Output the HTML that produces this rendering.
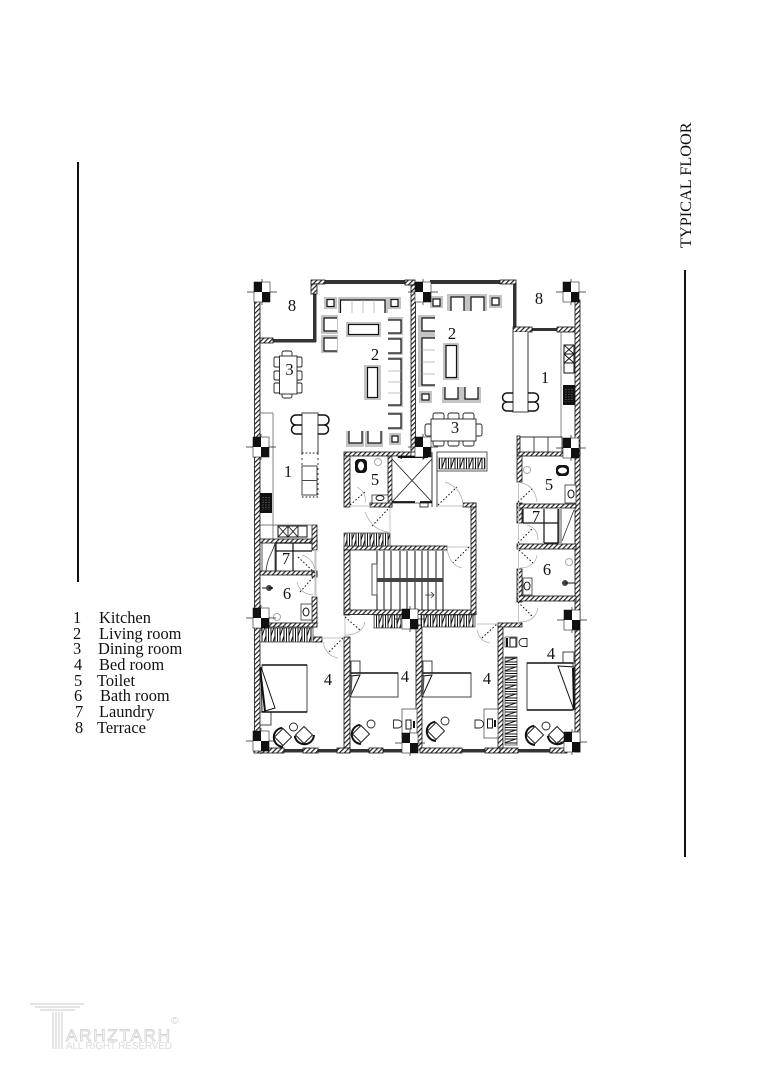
<!DOCTYPE html>
<html><head><meta charset="utf-8"><style>html,body{margin:0;padding:0;background:#fff}svg{display:block}
text{font-family:"Liberation Serif",serif;fill:#111}
.w{fill:url(#h);stroke:#111;stroke-width:.8}
.d{fill:#333}
.c{fill:url(#z);stroke:#333;stroke-width:.7}
.cv{fill:url(#zv);stroke:#333;stroke-width:.7}
.g{fill:#c4c4c4}
.i{fill:#fff;stroke:#111;stroke-width:1.2}
.o{fill:none;stroke:#111;stroke-width:1.2}
.t{fill:#fff;stroke:#333;stroke-width:.8}
.l{fill:none;stroke:#555;stroke-width:.7}
.dr{fill:none;stroke:#111;stroke-width:1;stroke-dasharray:1.6 2}
.ar{fill:none;stroke:#aaa;stroke-width:.7}
.th{fill:none;stroke:#c4c4c4;stroke-width:1}
.n{font-size:16.500px}
</style></head><body>
<svg width="764" height="1080" viewBox="0 0 764 1080" xmlns="http://www.w3.org/2000/svg">
<defs>
<pattern id="h" width="3.400" height="3.400" patternUnits="userSpaceOnUse" patternTransform="rotate(45)"><rect width="3.400" height="3.400" fill="#fff"/><rect width="1.200" height="3.400" fill="#222"/></pattern>
<pattern id="z" width="9" height="12" patternUnits="userSpaceOnUse"><rect width="9" height="12" fill="#fff"/><path d="M1 0V12L5 0V12M7.500 0V12" fill="none" stroke="#111" stroke-width="1"/></pattern>
<pattern id="zv" width="12" height="9" patternUnits="userSpaceOnUse"><rect width="12" height="9" fill="#fff"/><path d="M0 1H12L0 5H12M0 7.500H12" fill="none" stroke="#111" stroke-width="1"/></pattern>
<g id="col"><path d="M-15 0H15M0 -13V13" stroke="#222" stroke-width=".7" fill="none"/><rect x="-8" y="-10" width="16" height="20" fill="#fff" stroke="#222" stroke-width=".6"/><rect x="-8" y="-10" width="8" height="10" fill="#111"/><rect x="0" y="0" width="8" height="10" fill="#111"/></g>
<g id="chair"><rect x="-6" y="-6" width="12" height="12" fill="#fff" stroke="#222" stroke-width="1"/><path d="M-7 -6A9.500 9.500 0 0 0 -6 7 9.500 9.500 0 0 0 7 7" fill="none" stroke="#111" stroke-width="2"/></g>
</defs>
<rect width="764" height="1080" fill="#fff"/>

<!-- side rules -->
<rect x="77" y="162" width="2" height="420" fill="#111"/>
<rect x="684" y="270" width="2" height="587" fill="#111"/>
<text transform="translate(691,248) rotate(-90)" font-size="16.300">TYPICAL FLOOR</text>

<!-- legend -->
<g font-size="16.400">
<text x="73" y="623">1</text><text x="99" y="623">Kitchen</text>
<text x="73" y="639">2</text><text x="99" y="639">Living room</text>
<text x="73" y="654">3</text><text x="98" y="654">Dining room</text>
<text x="74" y="670">4</text><text x="99" y="670">Bed room</text>
<text x="74" y="686">5</text><text x="97" y="686">Toilet</text>
<text x="74" y="701">6</text><text x="100" y="701">Bath room</text>
<text x="75" y="717">7</text><text x="99" y="717">Laundry</text>
<text x="75" y="733">8</text><text x="97" y="733">Terrace</text>
</g>

<!-- dark terrace / facade lines -->
<rect class="d" x="273" y="339" width="43" height="3.500"/>
<rect class="d" x="313" y="293" width="3.500" height="49"/>
<rect class="d" x="325" y="280" width="80" height="4"/>
<rect class="d" x="430" y="280" width="70" height="4"/>
<rect class="d" x="513" y="284" width="3.500" height="44"/>
<rect class="d" x="532" y="328" width="26" height="3"/>
<rect class="d" x="284" y="749" width="20" height="3.500"/><rect class="d" x="318" y="749" width="20" height="3.500"/><rect class="d" x="350" y="749" width="20" height="3.500"/><rect class="d" x="383" y="749" width="20" height="3.500"/><rect class="d" x="462" y="749" width="24" height="3.500"/><rect class="d" x="518" y="749" width="33" height="3.500"/>

<!-- walls -->
<g class="w">
<rect x="254.500" y="296" width="5.500" height="456"/>
<rect x="260" y="338" width="13" height="5"/>
<rect x="311" y="280" width="14" height="4"/><rect x="311" y="284" width="6" height="10"/>
<rect x="405" y="280" width="10" height="5"/><rect x="411" y="285" width="4.500" height="167"/>
<rect x="500" y="280" width="16" height="4"/>
<rect x="513" y="327" width="19" height="5"/><rect x="557" y="327" width="18" height="5"/>
<rect x="575" y="300" width="5" height="452"/>
<rect x="260" y="539" width="57" height="4"/><rect x="312" y="525" width="5" height="25"/>
<rect x="260" y="571" width="57" height="4"/><rect x="312" y="571" width="5" height="6"/>
<rect x="312" y="597" width="5" height="30"/><rect x="260" y="623" width="57" height="4"/>
<rect x="344" y="452" width="67" height="4"/><rect x="344" y="456" width="6" height="51"/>
<rect x="388" y="456" width="4" height="51"/><rect x="370" y="503" width="22" height="4"/>
<rect x="344" y="546" width="103" height="4"/><rect x="344" y="550" width="6" height="65"/>
<rect x="344" y="610" width="132" height="4.500"/>
<rect x="471" y="503" width="5" height="111"/><rect x="463" y="503" width="13" height="4"/>
<rect x="517" y="452" width="63" height="4"/><rect x="517" y="456" width="5" height="26"/>
<rect x="517" y="503" width="5" height="20"/><rect x="517" y="504" width="59" height="4"/>
<rect x="517" y="544" width="59" height="5"/>
<rect x="517" y="569" width="5" height="33"/><rect x="517" y="596" width="59" height="5"/>
<rect x="517" y="436" width="3" height="16"/>
<rect x="313" y="637" width="9" height="5"/>
<rect x="344" y="637" width="6" height="113"/>
<rect x="416" y="625" width="6" height="125"/>
<rect x="498" y="625" width="5" height="125"/><rect x="498" y="623" width="24" height="4"/>
<rect x="254" y="748" width="30" height="5"/><rect x="303" y="748" width="15" height="5"/><rect x="337" y="748" width="13" height="5"/><rect x="369" y="748" width="14" height="5"/>
<rect x="420" y="748" width="42" height="5"/><rect x="485" y="748" width="15" height="5"/><rect x="500" y="748" width="18" height="5"/><rect x="550" y="748" width="17" height="5"/>
</g>

<!-- closets -->
<rect class="c" x="260" y="628" width="53" height="14"/>
<rect class="c" x="344" y="533" width="46" height="13"/>
<rect class="c" x="374" y="615" width="27" height="13"/>
<rect class="c" x="421" y="615" width="54" height="12"/>
<rect x="437" y="452" width="50" height="19" fill="none" stroke="#333" stroke-width=".8"/>
<rect class="c" x="439" y="458" width="46" height="11"/>
<rect class="cv" x="505" y="657" width="12" height="88"/>

<!-- elevator -->
<rect x="392" y="456" width="40" height="47" fill="#fff" stroke="#333" stroke-width=".7"/>
<path d="M392 459L432 502M432 459L392 502" stroke="#222" stroke-width=".9"/>
<path d="M432 452V507M437 456V507" stroke="#333" stroke-width=".9" fill="none"/>
<path d="M392 502H415M420 502H432" stroke="#111" stroke-width="1.800"/>
<path d="M398 457H428" stroke="#111" stroke-width="2"/><path d="M397 457l5 -2v4zM428 457l-5 -2v4z" fill="#111"/>
<rect x="420" y="503" width="8" height="4" fill="#fff" stroke="#111" stroke-width=".8"/>

<!-- stairs -->
<g stroke="#111" stroke-width="1">
<path d="M377 551V610M384 551V610M391 551V610M400 551V610M407 551V610M415 551V610M422 551V610M428 551V610M436 551V610M443 551V610"/>
<rect x="372" y="564" width="5" height="31" fill="#fff" stroke="#555"/>
</g>
<rect x="377" y="578" width="66" height="4" fill="#444"/>
<path d="M431 592l3 3 -3 3M425 595H434" fill="none" stroke="#333" stroke-width=".8"/>

<!-- kitchens -->
<path class="l" d="M273 413V525M260 413H273M260 525H273M273 525H317M273 539V525M561 332V437" stroke-width="1"/>
<rect x="260" y="493" width="12" height="20" fill="#111"/>
<path d="M263 497v13M266 497v13M269 497v13" stroke="#777" stroke-dasharray="1 1.500"/>
<rect x="278" y="526" width="29" height="11" fill="#fff" stroke="#111"/><path d="M278 526L288 537M288 526L278 537M288 526L298 537M298 526L288 537M288 526V537M298 526V537" stroke="#111" stroke-width=".9"/>
<rect x="564" y="345" width="10" height="28" fill="#fff" stroke="#111"/><path d="M564 345L574 354M574 345L564 354M564 354L574 363M574 354L564 363M564 354H574M564 363H574" stroke="#111" stroke-width=".9"/>
<rect x="563" y="385" width="12" height="20" fill="#111"/><path d="M566 389v13M569 389v13M572 389v13" stroke="#777" stroke-dasharray="1 1.500"/>
<path d="M520 437H562V452M534 437V452M548 437V452" fill="none" stroke="#333" stroke-width=".9"/>
<!-- islands -->
<path d="M302 453V413H318V453" fill="#fff" stroke="#666" stroke-width="1.300"/>
<path d="M302 453H318M302 497H318" class="dr"/><path d="M302 453V497M318 453V497" fill="none" stroke="#111" stroke-dasharray="2 3" stroke-width=".8"/>
<rect x="302" y="466" width="15" height="14.500" fill="#fff" stroke="#444"/><rect x="302" y="480.500" width="15" height="14.500" fill="#fff" stroke="#444"/>
<path d="M302 415H296a4 4 0 0 0 0 10 4 4 0 0 0 0 9H302M302 425H296M318 415H324a4 4 0 0 1 0 10 4 4 0 0 1 0 9H318M318 425H324" fill="none" stroke="#111" stroke-width="1.500"/>
<path d="M513 332V412H528V332" fill="#fff" stroke="#666" stroke-width="1.300"/>
<path d="M513 393H507a4 4 0 0 0 0 9 4 4 0 0 0 0 9H513M513 402H507M528 393H534a4 4 0 0 1 0 9 4 4 0 0 1 0 9H528M528 402H534" fill="none" stroke="#111" stroke-width="1.500"/>

<!-- left living -->
<rect class="g" x="324" y="297" width="13" height="12"/><rect class="i" x="327" y="299.500" width="7" height="7"/>
<rect class="g" x="338" y="297" width="50" height="16"/><rect x="341" y="300" width="44" height="13" fill="#fff"/><path class="o" d="M340.500 313V300H385V313"/><path d="M352 300V313M363 300V313M374 300V313" stroke="#aaa" stroke-width=".7"/>
<rect class="g" x="388" y="297" width="13" height="12"/><rect class="i" x="391" y="299.500" width="7" height="7"/>
<rect class="g" x="321" y="315" width="17" height="19"/><rect x="324" y="318" width="13" height="13" fill="#fff"/><path class="o" d="M337 318H324V331H337"/>
<rect class="g" x="321" y="335" width="17" height="18"/><rect x="324" y="338" width="13" height="13" fill="#fff"/><path class="o" d="M337 338H324V351H337"/>
<rect class="g" x="346" y="322" width="35" height="15"/><rect class="i" x="348.500" y="324.500" width="30" height="10"/>
<rect class="g" x="388" y="317" width="15" height="18"/><rect x="388" y="320" width="13" height="13" fill="#fff"/><path class="o" d="M388 320H401V333H388"/>
<rect class="g" x="388" y="337" width="15" height="18"/><rect x="388" y="339" width="13" height="14" fill="#fff"/><path class="o" d="M388 339H401V353H388"/>
<rect class="g" x="388" y="357" width="15" height="50"/><rect x="388" y="359" width="13" height="46" fill="#fff"/><path class="o" d="M388 359H401V405H388"/><path d="M388 371H401M388 382H401M388 393H401" stroke="#aaa" stroke-width=".7"/>
<rect class="g" x="388" y="412" width="15" height="18"/><rect x="388" y="414" width="13" height="14" fill="#fff"/><path class="o" d="M388 414H401V428H388"/>
<rect class="g" x="389" y="433" width="12" height="12"/><rect class="i" x="392" y="436" width="6" height="6"/>
<rect class="g" x="364" y="365" width="17" height="35"/><rect class="i" x="367.500" y="367.500" width="10" height="30"/>
<rect class="g" x="346" y="431" width="18" height="16"/><rect x="349" y="431" width="13" height="12" fill="#fff"/><path class="o" d="M349 431V443H362V431"/>
<rect class="g" x="365" y="431" width="18" height="16"/><rect x="368" y="431" width="13" height="12" fill="#fff"/><path class="o" d="M368 431V443H381V431"/>

<!-- right living -->
<rect class="g" x="430" y="296" width="13" height="12"/><rect class="i" x="433" y="299" width="7" height="7"/>
<rect class="g" x="447" y="294" width="20" height="17"/><rect x="451" y="297" width="13" height="14" fill="#fff"/><path class="o" d="M451 311V297H464V311"/>
<rect class="g" x="467" y="294" width="20" height="17"/><rect x="471" y="297" width="13" height="14" fill="#fff"/><path class="o" d="M471 311V297H484V311"/>
<rect class="g" x="489" y="295" width="13" height="13"/><rect class="i" x="492" y="298" width="7" height="7"/>
<rect class="g" x="418" y="315" width="17" height="20"/><rect x="422" y="318" width="13" height="13" fill="#fff"/><path class="o" d="M435 318H422V331H435"/>
<rect class="g" x="418" y="335" width="17" height="52"/><rect x="422" y="338" width="13" height="47" fill="#fff"/><path class="o" d="M435 338H422V385H435"/><path d="M422 350H435M422 362H435M422 374H435" stroke="#aaa" stroke-width=".7"/>
<rect class="g" x="419" y="391" width="13" height="12"/><rect class="i" x="422" y="394" width="7" height="6"/>
<rect class="g" x="443" y="343" width="16" height="37"/><rect class="i" x="446" y="345.500" width="10.500" height="32"/>
<rect class="g" x="442" y="387" width="20" height="16"/><rect x="445" y="387" width="13" height="12" fill="#fff"/><path class="o" d="M445 387V399H458V387"/>
<rect class="g" x="462" y="387" width="19" height="16"/><rect x="465" y="387" width="13" height="12" fill="#fff"/><path class="o" d="M465 387V399H478V387"/>

<!-- dining -->
<g fill="#fff" stroke="#222" stroke-width=".9">
<rect x="282" y="351" width="10" height="6" rx="2"/><rect x="282" y="393" width="10" height="5" rx="2"/>
<rect x="274" y="357" width="6" height="10" rx="1.500"/><rect x="274" y="371" width="6" height="9" rx="1.500"/><rect x="274" y="383" width="6" height="10" rx="1.500"/>
<rect x="296" y="357" width="6" height="10" rx="1.500"/><rect x="296" y="371" width="6" height="9" rx="1.500"/><rect x="296" y="383" width="6" height="10" rx="1.500"/>
<rect x="279.500" y="356" width="17.500" height="38"/>
<rect x="433" y="413" width="11" height="7" rx="2"/><rect x="448" y="413" width="11" height="7" rx="2"/><rect x="463" y="413" width="11" height="7" rx="2"/>
<rect x="433" y="440" width="11" height="6" rx="2"/><rect x="448" y="440" width="11" height="6" rx="2"/><rect x="463" y="440" width="11" height="6" rx="2"/>
<rect x="425" y="424" width="7" height="12" rx="2"/><rect x="475" y="424" width="7" height="12" rx="2"/>
<rect x="431" y="419" width="45" height="22"/>
</g>

<!-- laundry & baths -->
<path d="M276 543V571M276 543H312M293 543V571M276 551H312" class="o" stroke-width=".9"/>
<path d="M262 541V571M266 571C268 555 272 555 275 543M275 543V571" fill="none" stroke="#444" stroke-width=".9"/>
<path d="M523 523H558M544 509V543M523 509V523M558 509V543H544" class="o" stroke-width=".9"/>
<path d="M559 509V543M561 509V543M562 541L574 510" fill="none" stroke="#444" stroke-width=".9"/>
<circle cx="269" cy="588" r="3" fill="#444"/><path d="M269 588H273" stroke="#111" stroke-width="1.500"/><path d="M262 588H266" stroke="#111" stroke-width="1"/>
<circle cx="277" cy="617" r="3.500" fill="#fff" stroke="#aaa"/>
<rect class="t" x="301" y="604" width="11" height="16"/><ellipse cx="306" cy="612" rx="3" ry="4" fill="#fff" stroke="#111"/>
<circle cx="378" cy="462" r="3.500" fill="#fff" stroke="#aaa"/>
<rect x="355" y="459" width="12" height="14" rx="4" fill="#111"/><ellipse cx="361" cy="466" rx="3" ry="4.500" fill="#fff"/>
<rect class="t" x="372" y="495" width="16" height="8"/><ellipse cx="380" cy="498" rx="4" ry="2.500" fill="#fff" stroke="#111"/>
<rect x="556" y="465" width="13" height="11" rx="4" fill="#111"/><ellipse cx="562.500" cy="470.500" rx="4.500" ry="3" fill="#fff"/>
<circle cx="527" cy="470" r="3.500" fill="#fff" stroke="#aaa"/>
<rect class="t" x="565" y="485" width="11" height="18"/><ellipse cx="571" cy="494" rx="3" ry="4" fill="#fff" stroke="#111"/>
<circle cx="569" cy="562" r="3.500" fill="#fff" stroke="#aaa"/>
<circle cx="565" cy="583" r="3" fill="#444"/><path d="M565 583H575" stroke="#111" stroke-width="1"/>
<rect class="t" x="523" y="578" width="9" height="17"/><ellipse cx="527" cy="586" rx="3" ry="4" fill="#fff" stroke="#111"/>

<!-- doors -->
<g class="th">
<path d="M350 506H371"/><path d="M390 507V533"/><path d="M447 547H471"/><path d="M438 506H463"/>
<path d="M518.500 482V625"/><path d="M315.500 550V597" stroke-width="2"/>
<path d="M322 638H344"/><path d="M477 624H498"/><path d="M345 615V637"/>
</g>
<g class="dr">
<path d="M350 505L365 492"/><path d="M372 526L390 507"/><path d="M438 505L457 487"/><path d="M469 547L453 563"/>
<path d="M518 502L533 488"/><path d="M518 543L533 528"/><path d="M519 550L533 563"/><path d="M518 602L533 617"/>
<path d="M482 638L498 623"/><path d="M345 617L360 630"/><path d="M343 638L328 653"/>
<path d="M298 557L315 573"/><path d="M300 592L315 575"/>
</g>
<g class="ar">
<path d="M357 487Q367 493 365 503"/><path d="M365 512Q372 530 388 532"/><path d="M445 482Q462 488 463 505"/><path d="M447 548Q449 565 462 568"/>
<path d="M522 483Q535 486 537 502"/><path d="M527 525Q538 528 538 540"/><path d="M537 555Q535 568 520 568"/><path d="M538 608Q535 622 520 622"/>
<path d="M477 630Q480 642 490 643"/><path d="M365 622Q362 635 345 635"/><path d="M323 642Q326 656 338 658"/>
<path d="M302 555Q313 558 315 570"/><path d="M297 582Q300 594 313 595"/>
</g>

<!-- beds -->
<g fill="#fff" stroke="#333" stroke-width=".9">
<rect x="262" y="665" width="45" height="47"/>
<rect x="351" y="673" width="47" height="24"/>
<rect x="423" y="673" width="48" height="24"/>
<rect x="527" y="663" width="46" height="47"/>
<rect x="260" y="712" width="11" height="13"/><rect x="351" y="661" width="9" height="12"/><rect x="423" y="661" width="9" height="12"/><rect x="563" y="652" width="11" height="11"/>
<rect x="402" y="709" width="15" height="29" stroke="#666"/><rect x="484" y="709" width="14" height="29" stroke="#666"/>
<rect x="505" y="637" width="12" height="10" stroke="#666"/>
</g>
<path d="M262 665H307M262 712H307M351 673H398M423 673H471M527 663H573M527 710H573" stroke="#111" stroke-width="1.500" fill="none"/>
<path d="M261 667L262 712L275 708Z" fill="#fff" stroke="#111"/><path d="M260 668L265 711" stroke="#111" stroke-width="2"/>
<path d="M351 676L360 675L350 697Z" fill="#fff" stroke="#111"/><path d="M351 676L350 696" stroke="#555" stroke-width="3"/>
<path d="M423 676L432 675L422 697Z" fill="#fff" stroke="#111"/><path d="M423 676L422 696" stroke="#555" stroke-width="3"/>
<path d="M558 666L574 667L574 710Z" fill="#fff" stroke="#111"/><path d="M573 668L574 708" stroke="#111" stroke-width="2"/>

<!-- lounge chairs -->
<use href="#chair" transform="translate(283,737) rotate(45)"/>
<use href="#chair" transform="translate(304,735) rotate(-45)"/>
<use href="#chair" transform="translate(361,734) rotate(45)"/>
<use href="#chair" transform="translate(436,731) rotate(45)"/>
<use href="#chair" transform="translate(535,735) rotate(45)"/>
<use href="#chair" transform="translate(557,735) rotate(-45)"/>
<g fill="#fff" stroke="#222" stroke-width=".9">
<circle cx="293.500" cy="727" r="4"/><circle cx="371" cy="724" r="4"/><circle cx="445" cy="721" r="4"/><circle cx="546" cy="726" r="4"/>
<path d="M393.500 720H398a4 4 0 0 1 0 8H393.500Z"/><path d="M475 720H479.500a4 4 0 0 1 0 8H475Z"/><path d="M527 638.500H523a4 4 0 0 0 0 8H527Z"/>
</g>
<g fill="#fff" stroke="#111" stroke-width="1"><rect x="406" y="720" width="5" height="9"/><rect x="487.500" y="719" width="5" height="9"/><rect x="510" y="638" width="6" height="9"/></g>
<path d="M414 721V728M495 720V727M507 638V647" stroke="#111" stroke-width="2"/>

<!-- columns -->
<use href="#col" x="262" y="292"/><use href="#col" x="261" y="447"/><use href="#col" x="261" y="618"/><use href="#col" x="261" y="741"/>
<use href="#col" x="423" y="292"/><use href="#col" x="423" y="447"/><use href="#col" x="571" y="292"/><use href="#col" x="571" y="448"/>
<use href="#col" x="572" y="620"/><use href="#col" x="572" y="742"/><use href="#col" x="410" y="619"/><use href="#col" x="410" y="743"/>

<!-- room labels -->
<g class="n" text-anchor="middle">
<text x="292" y="311">8</text><text x="539" y="304">8</text>
<text x="375" y="360">2</text><text x="452" y="339">2</text>
<text x="289.500" y="375">3</text><text x="455" y="433">3</text>
<text x="288" y="477">1</text><text x="545" y="383">1</text>
<text x="375" y="485">5</text><text x="549" y="490">5</text>
<text x="286" y="564">7</text><text x="536" y="522">7</text>
<text x="287" y="599">6</text><text x="547" y="575">6</text>
<text x="328" y="685">4</text><text x="405" y="682">4</text><text x="487" y="684">4</text><text x="551" y="659">4</text>
</g>

<!-- logo -->
<g fill="none" stroke="#d4d4d4" stroke-width="1.200">
<path d="M30 1004H84M35 1007H80M40 1010H75M53 1012V1049M56 1012V1049M59 1012V1049M62 1012V1049"/>
</g>
<text x="66" y="1041" font-size="17" style="font-family:'Liberation Sans',sans-serif;fill:#fff;stroke:#d4d4d4;stroke-width:.9" textLength="104">ARHZTARH</text>
<text x="66" y="1049" font-size="10" style="font-family:'Liberation Sans',sans-serif;fill:#dcdcdc" textLength="106">ALL RIGHT RESERVED</text>
<text x="171" y="1024" font-size="10" style="font-family:'Liberation Sans',sans-serif;fill:#d0d0d0">©</text>
</svg>
</body></html>
